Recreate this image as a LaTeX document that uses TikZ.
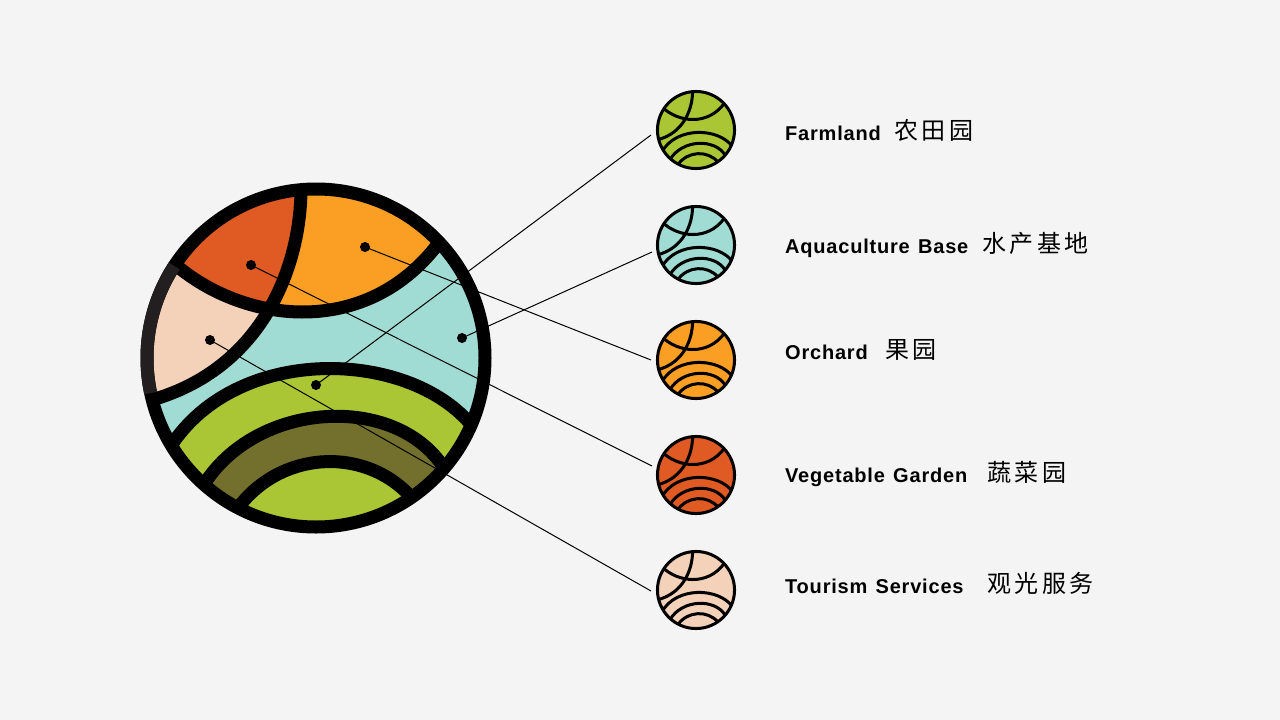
\documentclass[tikz,border=0pt]{standalone}
\usepackage{fontspec}
\setmainfont{Liberation Sans}
\newfontfamily\cjk[LetterSpace=15]{Noto Sans CJK SC}
\newfontfamily\latn[LetterSpace=4,WordSpace=1.3]{Liberation Sans}
\usetikzlibrary{positioning}
\definecolor{page}{HTML}{F4F4F4}
\definecolor{field}{HTML}{ABC634}
\definecolor{pond}{HTML}{A0DCD3}
\definecolor{fruit}{HTML}{FA9F24}
\definecolor{veg}{HTML}{E05A24}
\definecolor{tour}{HTML}{F4D1B9}
\definecolor{soil}{HTML}{72702C}
\definecolor{rim}{HTML}{231F20}

\tikzset{
	pics/globe/.style n args={7}{code={
		\fill[#2] (0,0) circle (169);
		\begin{scope}
			\clip (0,0) circle (169);
			\fill[#3] (-150,96) .. controls (-85,-18) and (100,-10) .. (160,73) -- (200,200) -- (-200,200) -- cycle;
			\fill[#4] (-113,128) .. controls (-60,42) and (80,35) .. (128,110) -- (200,200) -- (-200,200) -- cycle;
			\fill[#3] (-78,150) .. controls (-35,92) and (50,88) .. (96,140) -- (200,200) -- (-200,200) -- cycle;
			\fill[#7] (-148,-100) .. controls (-80,-35) and (50,-15) .. (125,-118) -- (125,-200) -- (-148,-200) -- cycle;
			\fill[#5] (-15,-170) .. controls (-15,-90) and (-55,15) .. (-172,44) -- (-200,44) -- (-200,-170) -- cycle;
			\clip (-15,-170) .. controls (-15,-90) and (-55,15) .. (-172,44) -- (-200,44) -- (-200,-170) -- cycle;
			\fill[#6] (-148,-100) .. controls (-80,-35) and (50,-15) .. (125,-118) -- (125,-200) -- (-148,-200) -- cycle;
		\end{scope}
		\draw[line width=#1] (0,0) circle (169);
		\begin{scope}[line width=#1]
			\clip (0,0) circle (169);
			\draw (-15,-170) .. controls (-15,-90) and (-55,15) .. (-172,44);
			\draw (-148,-100) .. controls (-80,-35) and (50,-15) .. (125,-118);
			\draw (-150,96) .. controls (-85,-18) and (100,-10) .. (160,73);
			\draw (-113,128) .. controls (-60,42) and (80,35) .. (128,110);
			\draw (-78,150) .. controls (-35,92) and (50,88) .. (96,140);
		\end{scope}
	}},
	bullet/.style={
		fill=black,
		circle,
		minimum width=10pt,
		inner sep=0pt
	},
	leader/.style={
		line width=1pt
	},
	namelabel/.style={
		anchor=base west,
		inner sep=0pt,
		font=\latn\bfseries\fontsize{20}{24}\selectfont
	},
	cjklabel/.style={
		anchor=base west,
		inner sep=0pt,
		font=\cjk\fontsize{24}{28}\selectfont
	}
}

\begin{document}
\begin{tikzpicture}[x=1pt,y=-1pt]
\fill[page] (0,0) rectangle (1280,720);
\useasboundingbox (0,0) rectangle (1280,720);

\pic at (316,358) {globe={13pt}{pond}{field}{soil}{tour}{veg}{fruit}};
\draw[rim,line width=13pt] (316,358) ++(213:169) arc[start angle=213,end angle=168,radius=169];

% small globes
\foreach \y/\c in {130/field,245/pond,360/fruit,475/veg,590/tour}
\pic[scale=0.228] at (696,\y) {globe={3pt}{\c}{\c}{\c}{\c}{\c}{\c}};

\node[bullet] (farmdot) at (316,385) {};
\node[bullet] (ponddot) at (462,338) {};
\node[bullet] (fruitdot) at (365,247) {};
\node[bullet] (vegdot) at (251,265) {};
\node[bullet] (tourdot) at (210,340) {};

\coordinate (farmend) at (651,135);
\coordinate (pondend) at (652,252);
\coordinate (fruitend) at (651,360);
\coordinate (vegend) at (652,466);
\coordinate (tourend) at (651,591);

\foreach \n in {farm,pond,fruit,veg,tour}
\draw[leader] (\n dot.center) -- (\n end);

\node[namelabel] (farmname) at (785,140.5) {Farmland};
\node[namelabel] (pondname) at (785,253.5) {Aquaculture Base};
\node[namelabel] (fruitname) at (785,359.5) {Orchard};
\node[namelabel] (vegname) at (785,482.5) {Vegetable Garden};
\node[namelabel] (tourname) at (785,593.5) {Tourism Services};

\node[cjklabel] (farmcjk) at (894,139) {农田园};
\node[cjklabel] (pondcjk) at (982,252) {水产基地};
\node[cjklabel] (fruitcjk) at (885,358) {果园};
\node[cjklabel] (vegcjk) at (987,481) {蔬菜园};
\node[cjklabel] (tourcjk) at (987,592) {观光服务};
\end{tikzpicture}
\end{document}
